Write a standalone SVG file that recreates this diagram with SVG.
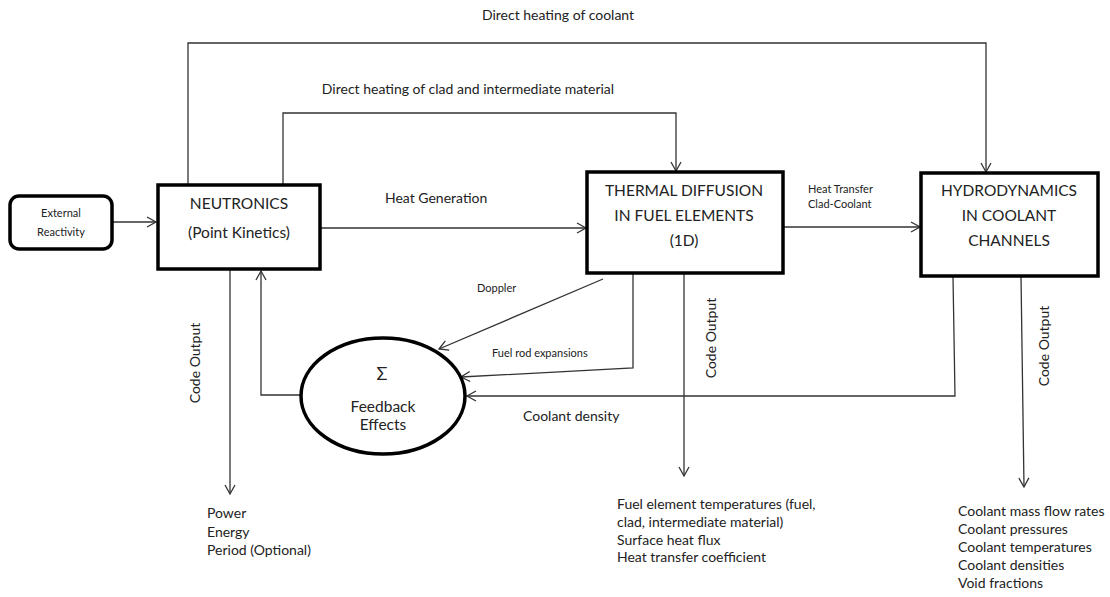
<svg xmlns="http://www.w3.org/2000/svg" width="1110" height="597" viewBox="0 0 1110 597">
<style>
.box{fill:#fff;stroke:#000;stroke-width:3.5}
.ln{fill:none;stroke:#333;stroke-width:1.3}
.t{font-family:Lato,"Open Sans",sans-serif;fill:#222}
.bt{font-family:Lato,"Open Sans",sans-serif;fill:#222;font-size:15.5px;text-anchor:middle}
.s{font-size:11px}
.m{font-size:14px}
</style>
<defs>
<marker id="ah" markerWidth="12" markerHeight="12" refX="10" refY="6" orient="auto" markerUnits="userSpaceOnUse">
<path d="M1,1 L10,6 L1,11" fill="none" stroke="#333" stroke-width="1.3"/>
</marker>
</defs>
<rect width="1110" height="597" fill="#fff"/>
<g id="connectors">
<path class="ln" d="M112,222 H156" marker-end="url(#ah)"/>
<path class="ln" d="M320,228 H586" marker-end="url(#ah)"/>
<path class="ln" d="M783,227 H920" marker-end="url(#ah)"/>
<path class="ln" d="M188,184 V43 H986 V172" marker-end="url(#ah)"/>
<path class="ln" d="M283,184 V113 H676 V171" marker-end="url(#ah)"/>
<path class="ln" d="M230,269 V494" marker-end="url(#ah)"/>
<path class="ln" d="M302,395 H261 V271" marker-end="url(#ah)"/>
<path class="ln" d="M603,279 L439,349" marker-end="url(#ah)"/>
<path class="ln" d="M633,273 V368 L461,377" marker-end="url(#ah)"/>
<path class="ln" d="M684,273 V476" marker-end="url(#ah)"/>
<path class="ln" d="M953,276 L955,396 H467" marker-end="url(#ah)"/>
<path class="ln" d="M1021,276 L1024,487" marker-end="url(#ah)"/>
</g>
<g id="labels">
<text class="t m" x="558" y="20" text-anchor="middle">Direct heating of coolant</text>
<text class="t m" x="468" y="94" text-anchor="middle">Direct heating of clad and intermediate material</text>
<text class="t m" x="385" y="203">Heat Generation</text>
<text class="t s" x="808" y="193">Heat Transfer</text>
<text class="t s" x="808" y="208">Clad-Coolant</text>
<text class="t s" x="477" y="292">Doppler</text>
<text class="t s" x="492" y="357">Fuel rod expansions</text>
<text class="t m" x="523" y="421">Coolant density</text>
<text class="t m" transform="translate(200,363) rotate(-90)" text-anchor="middle">Code Output</text>
<text class="t m" transform="translate(716,338) rotate(-90)" text-anchor="middle">Code Output</text>
<text class="t m" transform="translate(1049,346) rotate(-90)" text-anchor="middle">Code Output</text>
<text class="t m" x="207" y="518">Power</text>
<text class="t m" x="207" y="537">Energy</text>
<text class="t m" x="207" y="555">Period (Optional)</text>
<text class="t m" x="617" y="509">Fuel element temperatures (fuel,</text>
<text class="t m" x="617" y="527">clad, intermediate material)</text>
<text class="t m" x="617" y="545">Surface heat flux</text>
<text class="t m" x="617" y="562">Heat transfer coefficient</text>
<text class="t m" x="958" y="516">Coolant mass flow rates</text>
<text class="t m" x="958" y="534">Coolant pressures</text>
<text class="t m" x="958" y="552">Coolant temperatures</text>
<text class="t m" x="958" y="570">Coolant densities</text>
<text class="t m" x="958" y="588">Void fractions</text>
</g>
<g id="external">
<rect class="box" x="10" y="196" width="102" height="53" rx="9" stroke-width="3"/>
<text class="t s" x="61" y="217" text-anchor="middle">External</text>
<text class="t s" x="61" y="236" text-anchor="middle">Reactivity</text>
</g>
<g id="neutronics">
<rect class="box" x="158" y="185" width="162" height="84"/>
<text class="bt" x="239" y="209">NEUTRONICS</text>
<text class="bt" x="239" y="238">(Point Kinetics)</text>
</g>
<g id="thermal">
<rect class="box" x="587" y="172" width="196" height="101"/>
<text class="bt" x="684" y="196">THERMAL DIFFUSION</text>
<text class="bt" x="684" y="221">IN FUEL ELEMENTS</text>
<text class="bt" x="684" y="246">(1D)</text>
</g>
<g id="hydro">
<rect class="box" x="921" y="173" width="177" height="103"/>
<text class="bt" x="1009" y="196">HYDRODYNAMICS</text>
<text class="bt" x="1009" y="221">IN COOLANT</text>
<text class="bt" x="1009" y="246">CHANNELS</text>
</g>
<g id="feedback">
<ellipse cx="383" cy="396" rx="82" ry="58" fill="#fff" stroke="#000" stroke-width="3.5"/>
<text class="bt" x="382" y="380" style="font-size:18px">Σ</text>
<text class="bt" x="383" y="412">Feedback</text>
<text class="bt" x="383" y="430">Effects</text>
</g>
</svg>
